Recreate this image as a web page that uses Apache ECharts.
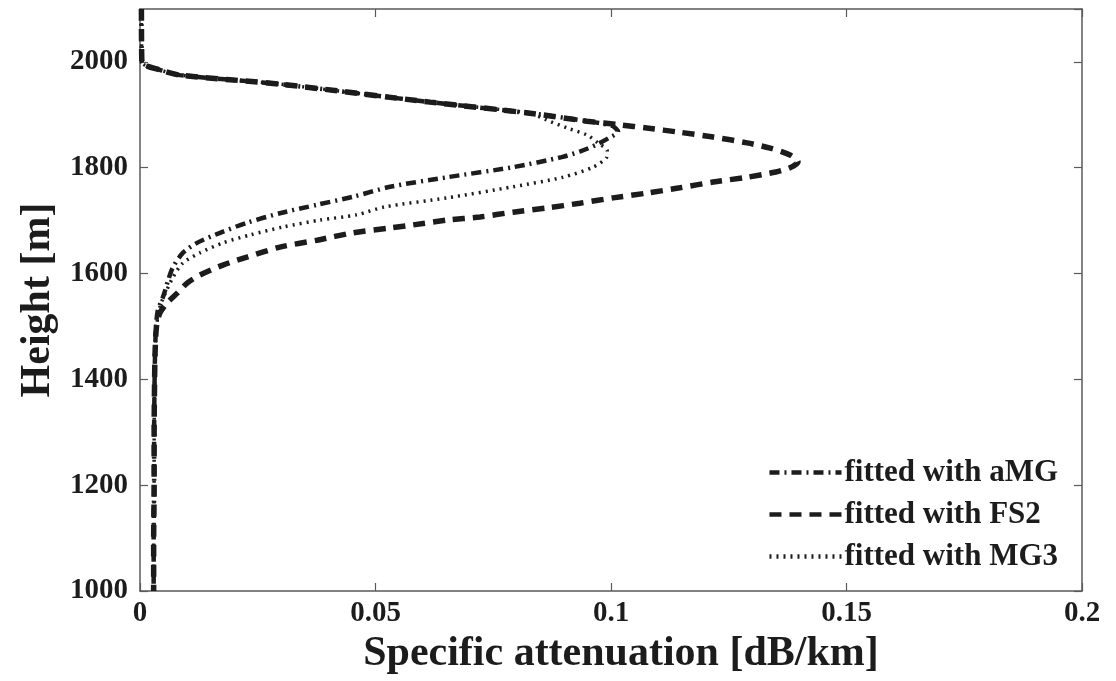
<!DOCTYPE html>
<html>
<head>
<meta charset="utf-8">
<title>Specific attenuation profiles</title>
<script src="https://cdn.jsdelivr.net/npm/echarts@6/dist/echarts.min.js"></script>
<style>
  html, body { margin: 0; padding: 0; background: #ffffff; }
  #chart { width: 1116px; height: 681px; }
</style>
</head>
<body>
<div id="chart"></div>
<script>
// Specific attenuation [dB/km] versus height [m] for three fitted profiles
const seriesNames = ['fitted with aMG', 'fitted with FS2', 'fitted with MG3'];

const amgHeight = [2100, 2000, 1985, 1975, 1958, 1924, 1903, 1888, 1879, 1868,
  1856, 1843, 1831, 1820, 1801, 1782, 1764, 1745, 1730, 1714,
  1696, 1677, 1658, 1639, 1612, 1588, 1556, 1531, 1500, 1450,
  1400, 1300, 1200, 1100, 1000];
const amgAtten = [0.0003, 0.0004, 0.0042, 0.0085, 0.0297, 0.0616, 0.0828, 0.0949, 0.1003, 0.1015,
  0.0995, 0.0968, 0.0935, 0.0895, 0.0792, 0.0652, 0.0531, 0.0452, 0.0376, 0.0297,
  0.0227, 0.0170, 0.0121, 0.0091, 0.0070, 0.0060, 0.0049, 0.0038, 0.0034, 0.0032,
  0.0031, 0.0030, 0.0030, 0.0029, 0.0029];

const fs2Height = [2100, 2000, 1985, 1975, 1958, 1924, 1903, 1888, 1881, 1875,
  1867, 1858, 1847, 1837, 1824, 1811, 1800, 1792, 1782, 1773,
  1762, 1752, 1743, 1733, 1724, 1716, 1707, 1701, 1692, 1686,
  1677, 1663, 1650, 1631, 1616, 1597, 1582, 1563, 1544, 1525,
  1500, 1450, 1400, 1300, 1200, 1100, 1000];
const fs2Atten = [0.0003, 0.0004, 0.0042, 0.0085, 0.0297, 0.0616, 0.0828, 0.0949, 0.1020, 0.1076,
  0.1146, 0.1217, 0.1289, 0.1338, 0.1380, 0.1397, 0.1380, 0.1350, 0.1289, 0.1217,
  0.1146, 0.1076, 0.1004, 0.0934, 0.0864, 0.0792, 0.0722, 0.0652, 0.0580, 0.0530,
  0.0452, 0.0376, 0.0297, 0.0227, 0.0176, 0.0127, 0.0100, 0.0079, 0.0057, 0.0042,
  0.0035, 0.0032, 0.0031, 0.0030, 0.0030, 0.0029, 0.0029];

const mg3Height = [2100, 2000, 1985, 1975, 1958, 1924, 1903, 1890, 1875, 1862,
  1847, 1832, 1820, 1801, 1782, 1764, 1743, 1726, 1711, 1701,
  1688, 1673, 1658, 1639, 1620, 1593, 1569, 1540, 1500, 1450,
  1400, 1300, 1200, 1100, 1000];
const mg3Atten = [0.0003, 0.0004, 0.0042, 0.0085, 0.0297, 0.0616, 0.0828, 0.0864, 0.0907, 0.0949,
  0.0972, 0.0992, 0.0991, 0.0962, 0.0898, 0.0792, 0.0652, 0.0520, 0.0460, 0.0382,
  0.0304, 0.0234, 0.0176, 0.0127, 0.0091, 0.0070, 0.0057, 0.0043, 0.0035, 0.0032,
  0.0031, 0.0030, 0.0030, 0.0029, 0.0029];

const xTickLabels = ['0', '0.05', '0.1', '0.15', '0.2'];
const yTickLabels = ['1000', '1200', '1400', '1600', '1800', '2000'];

const ink = '#1c1c1c';
const frame = '#5a5a5a';
const serif = '"Liberation Serif", "Times New Roman", serif';

function pairs(xs, ys) {
  return xs.map((x, i) => [x, ys[i]]);
}

const chart = echarts.init(document.getElementById('chart'), null, { renderer: 'canvas' });

const frameAxisX = (pos, show) => ({
  type: 'value', position: pos, min: 0, max: 0.2, interval: 0.05,
  axisLine: { show: true, onZero: false, lineStyle: { color: frame, width: 1.5 } },
  axisTick: { show: true, inside: true, length: 8, lineStyle: { color: frame, width: 1.2 } },
  splitLine: { show: false },
  axisLabel: show ? {
    show: true, margin: 8, color: ink, fontFamily: serif, fontWeight: 'bold', fontSize: 29,
    formatter: (v) => xTickLabels[Math.round(v / 0.05)]
  } : { show: false }
});

const frameAxisY = (pos, show) => ({
  type: 'value', position: pos, min: 1000, max: 2100, interval: 200,
  axisLine: { show: true, onZero: false, lineStyle: { color: frame, width: 1.5 } },
  axisTick: { show: true, inside: true, length: 8, lineStyle: { color: frame, width: 1.2 } },
  splitLine: { show: false },
  axisLabel: show ? {
    show: true, margin: 12, color: ink, fontFamily: serif, fontWeight: 'bold', fontSize: 29,
    showMaxLabel: false,
    formatter: (v) => { const i = Math.round((v - 1000) / 200); return (v <= 2000 && yTickLabels[i]) || ''; }
  } : { show: false }
});

const xMain = Object.assign(frameAxisX('bottom', true), {
  name: 'Specific attenuation [dB/km]', nameLocation: 'middle', nameGap: 41,
  nameTextStyle: { color: ink, fontFamily: serif, fontWeight: 'bold', fontSize: 42, padding: [0, 0, 0, 20] }
});
const yMain = Object.assign(frameAxisY('left', true), {
  name: 'Height [m]', nameLocation: 'middle', nameGap: 78, nameRotate: 90,
  nameTextStyle: { color: ink, fontFamily: serif, fontWeight: 'bold', fontSize: 42 }
});

const lineSeries = (name, xs, ys, width, dash, z) => ({
  name, type: 'line', xAxisIndex: 0, yAxisIndex: 0,
  data: pairs(xs, ys), showSymbol: false, symbol: 'none', smooth: 0.25,
  lineStyle: { color: ink, width, type: dash, cap: 'butt' },
  itemStyle: { color: ink }, z, animation: false
});

chart.setOption({
  backgroundColor: '#ffffff',
  animation: false,
  grid: { left: 140, right: 34, top: 9, bottom: 90 },
  xAxis: [xMain, frameAxisX('top', false)],
  yAxis: [yMain, frameAxisY('right', false)],
  legend: {
    orient: 'vertical', right: 53, top: 452, align: 'left',
    itemWidth: 72, itemHeight: 14, itemGap: 11,
    // line samples only, no marker on top of them
    itemStyle: { color: 'rgba(0,0,0,0)', borderWidth: 0 },
    lineStyle: { width: 4.5 },
    textStyle: { color: ink, fontFamily: serif, fontWeight: 'bold', fontSize: 31, lineHeight: 30, padding: [0, 0, 0, -2] },
    data: seriesNames
  },
  series: [
    lineSeries(seriesNames[0], amgAtten, amgHeight, 4.5, [10, 5, 2, 5], 3),
    lineSeries(seriesNames[1], fs2Atten, fs2Height, 5.5, [12, 8], 2),
    lineSeries(seriesNames[2], mg3Atten, mg3Height, 3.5, [2, 5], 4)
  ]
});
</script>
</body>
</html>
